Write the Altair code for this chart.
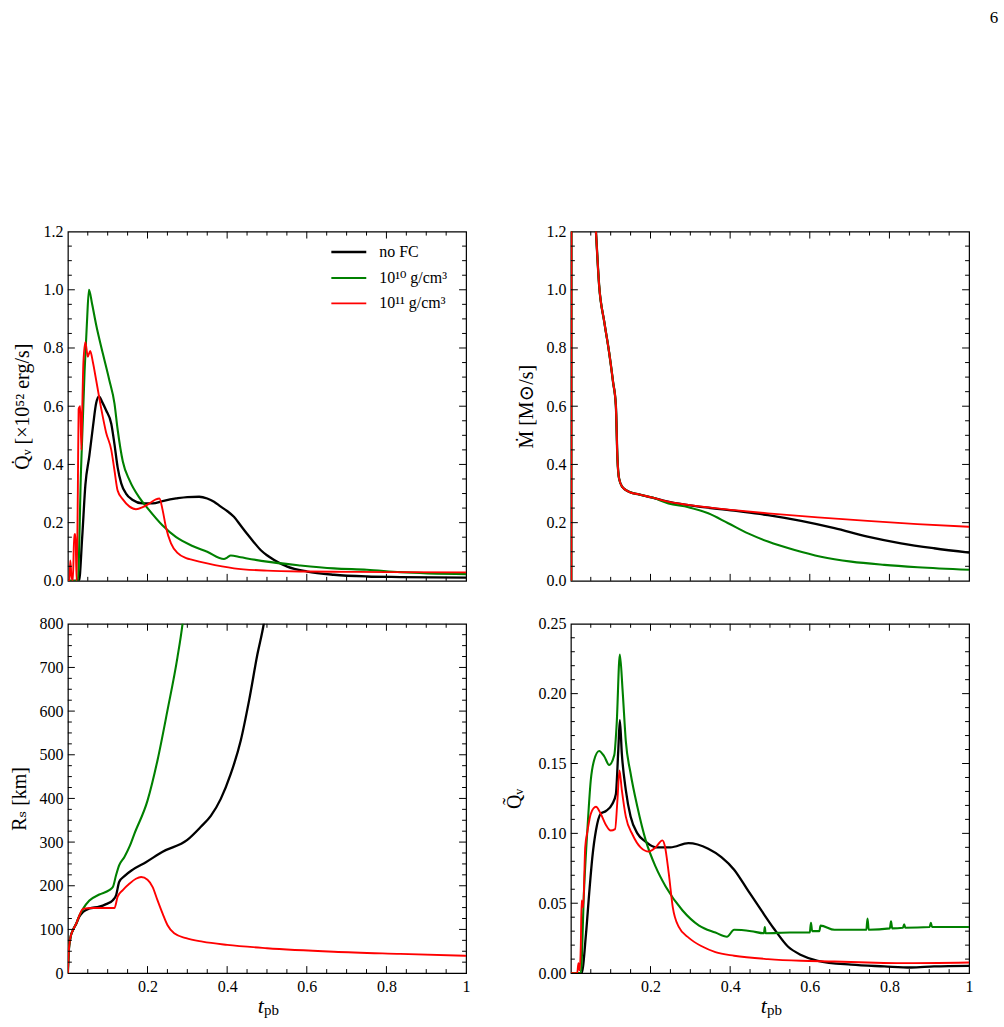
import altair as alt
import pandas as pd

# ---------------- data ----------------
SERIES = ["no FC", "10¹⁰ g/cm³", "10¹¹ g/cm³"]
COLORS = ["#000000", "#008000", "#ff0000"]
WIDTHS = [2.3, 1.9, 2.2]

# Panel 1: Qdot_nu [1e52 erg/s]
qdot_nofc_t = [0, 0.028, 0.036, 0.044, 0.054, 0.063, 0.071, 0.078, 0.086, 0.096, 0.109, 0.117, 0.125,
               0.134, 0.146, 0.163, 0.188, 0.213, 0.238, 0.272, 0.30, 0.33, 0.35, 0.367, 0.384, 0.40,
               0.417, 0.434, 0.451, 0.467, 0.484, 0.50, 0.518, 0.551, 0.601, 0.668, 0.751, 0.835, 1.0]
qdot_nofc_v = [0, 0, 0.15, 0.33, 0.43, 0.53, 0.61, 0.634, 0.615, 0.586, 0.54, 0.47, 0.39,
               0.335, 0.30, 0.278, 0.266, 0.266, 0.274, 0.283, 0.288, 0.289, 0.283, 0.272, 0.255, 0.24,
               0.22, 0.19, 0.16, 0.133, 0.106, 0.088, 0.072, 0.049, 0.032, 0.021, 0.015, 0.013, 0.011]
qdot_g10_t = [0, 0.025, 0.033, 0.042, 0.048, 0.053, 0.061, 0.071, 0.088, 0.104, 0.117, 0.125, 0.138,
              0.155, 0.180, 0.20, 0.238, 0.272, 0.313, 0.35, 0.392, 0.40, 0.409, 0.434, 0.50, 0.584,
              0.668, 0.751, 0.835, 1.0]
qdot_g10_v = [0, 0, 0.38, 0.72, 0.89, 1.0, 0.95, 0.88, 0.78, 0.69, 0.61, 0.52, 0.41,
              0.345, 0.285, 0.25, 0.19, 0.15, 0.12, 0.10, 0.075, 0.08, 0.087, 0.081, 0.066, 0.053,
              0.043, 0.038, 0.030, 0.023]
qdot_g11_t = [0, 0.004, 0.006, 0.009, 0.0125, 0.016, 0.019, 0.022, 0.025, 0.027, 0.031, 0.034, 0.036,
              0.039, 0.044, 0.050, 0.056, 0.063, 0.071, 0.084, 0.096, 0.109, 0.117, 0.125, 0.138,
              0.155, 0.171, 0.188, 0.205, 0.221, 0.230, 0.238, 0.246, 0.259, 0.276, 0.297, 0.313,
              0.35, 0.417, 0.5, 0.6, 0.7, 0.8, 1.0]
qdot_g11_v = [0, 0.0, 0.07, 0.02, 0.0, 0.16, 0.16, 0.0, 0.3, 0.59, 0.60, 0.45, 0.58,
              0.75, 0.82, 0.77, 0.79, 0.75, 0.69, 0.59, 0.51, 0.45, 0.38, 0.31, 0.28,
              0.255, 0.246, 0.253, 0.266, 0.28, 0.283, 0.243, 0.186, 0.129, 0.095, 0.078, 0.072,
              0.06, 0.043, 0.035, 0.032, 0.031, 0.030, 0.029]

# Panel 2: Mdot [Msun/s]
mdot_common_t = [0, 0.001, 0.002, 0.03, 0.063, 0.071, 0.084, 0.096, 0.106, 0.113, 0.117, 0.121,
                 0.129, 0.146, 0.171, 0.205]
mdot_common_v = [0, 0, 5.0, 2.0, 1.2, 1.015, 0.889, 0.786, 0.683, 0.603, 0.42, 0.352,
                 0.323, 0.306, 0.297, 0.286]
mdot_nofc_t = [0.238, 0.295, 0.41, 0.495, 0.578, 0.662, 0.745, 0.829, 0.912, 1.0]
mdot_nofc_v = [0.274, 0.26, 0.241, 0.226, 0.206, 0.181, 0.152, 0.129, 0.112, 0.097]
mdot_g10_t = [0.245, 0.295, 0.345, 0.395, 0.445, 0.495, 0.562, 0.628, 0.704, 0.787, 0.871, 1.0]
mdot_g10_v = [0.266, 0.253, 0.232, 0.198, 0.163, 0.135, 0.106, 0.083, 0.066, 0.055, 0.047, 0.038]
mdot_g11_t = [0.238, 0.295, 0.41, 0.495, 0.62, 0.745, 0.87, 1.0]
mdot_g11_v = [0.274, 0.261, 0.243, 0.232, 0.218, 0.206, 0.195, 0.186]

# Panel 3: R_s [km]
rs_nofc_t = [0, 0.0025, 0.006, 0.0125, 0.021, 0.029, 0.038, 0.054, 0.079, 0.096, 0.113, 0.121, 0.129,
             0.142, 0.163, 0.196, 0.238, 0.30, 0.334, 0.359, 0.384, 0.409, 0.434, 0.455, 0.476,
             0.492, 0.51]
rs_nofc_v = [0, 53, 79, 98, 113, 130, 140, 148, 152, 158, 167, 178, 209,
             222, 237, 254, 278, 305, 335, 360, 399, 456, 532, 624, 730, 800, 920]
rs_g10_t = [0, 0.0025, 0.006, 0.0125, 0.021, 0.029, 0.038, 0.054, 0.079, 0.104, 0.113, 0.121, 0.129,
            0.142, 0.155, 0.167, 0.2, 0.225, 0.25, 0.275, 0.288, 0.30]
rs_g10_v = [0, 53, 79, 98, 113, 132, 147, 166, 180, 190, 197, 224, 247,
            266, 290, 319, 395, 487, 601, 722, 800, 900]
rs_g11_t = [0, 0.0025, 0.006, 0.0125, 0.021, 0.029, 0.038, 0.06, 0.09, 0.117, 0.125, 0.138, 0.155,
            0.171, 0.184, 0.2, 0.213, 0.225, 0.238, 0.25, 0.267, 0.297, 0.338, 0.40, 0.5, 0.668,
            0.835, 1.0]
rs_g11_v = [0, 53, 79, 98, 113, 132, 147, 149, 149, 149, 175, 190, 205,
            216, 220, 214, 197, 167, 136, 110, 91, 80, 72, 64.6, 57, 49,
            44, 39.5]

# Panel 4: normalised Qdot
qt_nofc_t = [0, 0.027, 0.038, 0.046, 0.054, 0.063, 0.075, 0.088, 0.104, 0.113, 0.119, 0.123, 0.128,
             0.138, 0.15, 0.167, 0.188, 0.213, 0.25, 0.295, 0.345, 0.378, 0.41, 0.445, 0.478, 0.512,
             0.545, 0.578, 0.62, 0.704, 0.787, 0.854, 0.912, 1.0]
qt_nofc_v = [0, 0, 0.028, 0.057, 0.083, 0.102, 0.114, 0.116, 0.121, 0.128, 0.159, 0.181, 0.157,
             0.131, 0.112, 0.1, 0.094, 0.090, 0.090, 0.093, 0.089, 0.083, 0.074, 0.059, 0.045, 0.031,
             0.019, 0.013, 0.0088, 0.006, 0.0048, 0.004, 0.0048, 0.0052]
qt_g10_t = [0, 0.025, 0.033, 0.042, 0.05, 0.058, 0.071, 0.084, 0.096, 0.109, 0.115, 0.123, 0.130,
            0.138, 0.15, 0.167, 0.188, 0.213, 0.238, 0.28, 0.322, 0.363, 0.392, 0.41, 0.453,
            0.485, 0.487, 0.489, 0.55, 0.600, 0.603, 0.606, 0.624, 0.627, 0.662, 0.742, 0.745, 0.748,
            0.801, 0.804, 0.807, 0.834, 0.837, 0.840, 0.901, 0.904, 0.907, 0.95, 1.0]
qt_g10_v = [0, 0, 0.059, 0.105, 0.138, 0.152, 0.159, 0.155, 0.149, 0.156, 0.178, 0.228, 0.202,
            0.166, 0.143, 0.119, 0.095, 0.076, 0.062, 0.045, 0.034, 0.029, 0.026, 0.031, 0.030,
            0.0285, 0.033, 0.0285, 0.029, 0.029, 0.036, 0.030, 0.030, 0.034, 0.031, 0.031, 0.039, 0.031,
            0.032, 0.037, 0.032, 0.0325, 0.035, 0.0325, 0.033, 0.036, 0.033, 0.033, 0.033]
qt_g11_t = [0, 0.016, 0.019, 0.022, 0.025, 0.027, 0.031, 0.036, 0.042, 0.05, 0.063, 0.075, 0.088,
            0.1, 0.111, 0.117, 0.122, 0.128, 0.138, 0.155, 0.175, 0.196, 0.213, 0.230, 0.236, 0.246,
            0.256, 0.271, 0.297, 0.330, 0.363, 0.41, 0.495, 0.578, 0.662, 0.745, 0.829, 1.0]
qt_g11_v = [0, 0, 0.007, 0.002, 0.02, 0.052, 0.047, 0.09, 0.102, 0.114, 0.119, 0.114, 0.106,
            0.102, 0.103, 0.124, 0.145, 0.131, 0.112, 0.099, 0.090, 0.087, 0.090, 0.095, 0.091, 0.071,
            0.047, 0.033, 0.025, 0.019, 0.015, 0.0124, 0.010, 0.0088, 0.0083, 0.0076, 0.0071, 0.0076]

# tick positions
X_MAJOR = [0.2, 0.4, 0.6, 0.8]
X_MINOR = [0.05, 0.1, 0.15, 0.25, 0.3, 0.35, 0.45, 0.5, 0.55, 0.65, 0.7, 0.75, 0.85, 0.9, 0.95]
Y12_MAJOR = [0.2, 0.4, 0.6, 0.8, 1.0]
Y12_MINOR = [0.05, 0.1, 0.15, 0.25, 0.3, 0.35, 0.45, 0.5, 0.55, 0.65, 0.7, 0.75, 0.85, 0.9, 0.95,
             1.05, 1.1, 1.15]
Y12_LABELS = [0.0, 0.2, 0.4, 0.6, 0.8, 1.0, 1.2]
RS_MAJOR = [100, 200, 300, 400, 500, 600, 700]
RS_MINOR = [25, 50, 75, 125, 150, 175, 225, 250, 275, 325, 350, 375, 425, 450, 475, 525, 550, 575,
            625, 650, 675, 725, 750, 775]
RS_LABELS = [0, 100, 200, 300, 400, 500, 600, 700, 800]
QT_MAJOR = [0.05, 0.1, 0.15, 0.2]
QT_MINOR = [0.01, 0.02, 0.03, 0.04, 0.06, 0.07, 0.08, 0.09, 0.11, 0.12, 0.13, 0.14, 0.16, 0.17,
            0.18, 0.19, 0.21, 0.22, 0.23, 0.24]
QT_LABELS = [0.0, 0.05, 0.1, 0.15, 0.2, 0.25]

# ---------------- helpers ----------------
W, H = 399, 350
FONT = "Liberation Serif, DejaVu Serif"
MAJ, MIN = 7, 4


def long_df(parts):
    rows = []
    for name, ts, vs in parts:
        for t, v in zip(ts, vs):
            rows.append({"t": t, "v": v, "series": name})
    return pd.DataFrame(rows)


def make_yaxis(ylabels, yfmt, ytitle, title_x):
    return alt.Axis(values=ylabels, format=yfmt, ticks=False, domain=False, grid=False,
                    labelPadding=5, labelFont=FONT, labelFontSize=16, labelColor="black",
                    title=ytitle, titleX=title_x, titleFont=FONT, titleFontSize=20,
                    titleFontWeight="normal", titleColor="black")


def make_xaxis():
    return alt.Axis(values=[0.2, 0.4, 0.6, 0.8, 1.0],
                    labelExpr="datum.value == 1 ? '1' : format(datum.value, '.1f')",
                    ticks=False, domain=False, grid=False, labelFlush=False, labelPadding=5,
                    labelFont=FONT, labelFontSize=16, labelColor="black", title=None)


def panel(df, ydom, ylabels, yfmt, ymaj, ymin, ytitle, title_x, bottom, legend=None, extra=()):
    xscale = alt.Scale(domain=[0, 1], nice=False, zero=False)
    yscale = alt.Scale(domain=ydom, nice=False, zero=False)

    def xax():
        return make_xaxis() if bottom else None

    def yax():
        return make_yaxis(ylabels, yfmt, ytitle, title_x)

    line = alt.Chart(df).mark_line(clip=True, interpolate="monotone").encode(
        x=alt.X("t:Q", scale=xscale, axis=xax()),
        y=alt.Y("v:Q", scale=yscale, axis=yax()),
        color=alt.Color("series:N", scale=alt.Scale(domain=SERIES, range=COLORS), legend=legend),
        strokeWidth=alt.StrokeWidth("series:N", scale=alt.Scale(domain=SERIES, range=WIDTHS),
                                    legend=None),
    )
    layers = [line]
    for vals, ln in ((X_MAJOR, MAJ), (X_MINOR, MIN)):
        d = pd.DataFrame({"p": vals})
        for y0, y1 in ((H, H - ln), (0, ln)):
            layers.append(alt.Chart(d).mark_rule(color="black", strokeWidth=1).encode(
                x=alt.X("p:Q", scale=xscale, axis=xax()), y=alt.value(y0), y2=alt.value(y1)))
    for vals, ln in ((ymaj, MAJ), (ymin, MIN)):
        d = pd.DataFrame({"p": vals})
        for x0, x1 in ((0, ln), (W, W - ln)):
            layers.append(alt.Chart(d).mark_rule(color="black", strokeWidth=1).encode(
                y=alt.Y("p:Q", scale=yscale, axis=yax()), x=alt.value(x0), x2=alt.value(x1)))
    if bottom:
        layers.append(alt.Chart(pd.DataFrame({"s": ["t"]})).mark_text(
            font=FONT, fontSize=22, fontStyle="italic", align="right", baseline="alphabetic",
            color="black").encode(text="s:N", x=alt.value(W / 2 - 3), y=alt.value(H + 40)))
        layers.append(alt.Chart(pd.DataFrame({"s": ["pb"]})).mark_text(
            font=FONT, fontSize=15, align="left", baseline="alphabetic",
            color="black").encode(text="s:N", x=alt.value(W / 2 - 3), y=alt.value(H + 42)))
    layers.extend(extra)
    return alt.layer(*layers).properties(width=W, height=H)


df_qdot = long_df([(SERIES[0], qdot_nofc_t, qdot_nofc_v),
                   (SERIES[1], qdot_g10_t, qdot_g10_v),
                   (SERIES[2], qdot_g11_t, qdot_g11_v)])
df_mdot = long_df([(SERIES[0], mdot_common_t + mdot_nofc_t, mdot_common_v + mdot_nofc_v),
                   (SERIES[1], mdot_common_t + mdot_g10_t, mdot_common_v + mdot_g10_v),
                   (SERIES[2], mdot_common_t + mdot_g11_t, mdot_common_v + mdot_g11_v)])
df_rs = long_df([(SERIES[0], rs_nofc_t, rs_nofc_v),
                 (SERIES[1], rs_g10_t, rs_g10_v),
                 (SERIES[2], rs_g11_t, rs_g11_v)])
df_qt = long_df([(SERIES[0], qt_nofc_t, qt_nofc_v),
                 (SERIES[1], qt_g10_t, qt_g10_v),
                 (SERIES[2], qt_g11_t, qt_g11_v)])

legend = alt.Legend(title=None, orient="none", legendX=273, legendY=12,
                    symbolType="M-2.5,0H2.5", symbolSize=196, symbolStrokeWidth=2.6,
                    labelFont=FONT, labelFontSize=16, labelColor="black", labelOffset=22,
                    rowPadding=9)

page_no = alt.Chart(pd.DataFrame({"s": ["6"]})).mark_text(
    font=FONT, fontSize=17, align="center", baseline="middle", color="black"
).encode(text="s:N", x=alt.value(424), y=alt.value(-214))

tl = panel(df_qdot, [0, 1.2], Y12_LABELS, ".1f", Y12_MAJOR, Y12_MINOR,
           "Q̇ᵥ [×10⁵² erg/s]", -35, False, legend=legend)
tr = panel(df_mdot, [0, 1.2], Y12_LABELS, ".1f", Y12_MAJOR, Y12_MINOR,
           "Ṁ [M⊙/s]", -34, False, legend=None, extra=(page_no,))
bl = panel(df_rs, [0, 800], RS_LABELS, "d", RS_MAJOR, RS_MINOR,
           "Rₛ [km]", -38, True, legend=None)
br = panel(df_qt, [0, 0.25], QT_LABELS, ".2f", QT_MAJOR, QT_MINOR,
           "Q̃ᵥ", -46, True, legend=None)

chart = alt.concat(tl, tr, bl, br, columns=2, spacing={"row": 25, "column": 33}).resolve_scale(
    color="independent", strokeWidth="independent"
).properties(
    padding={"left": 9, "top": 7, "right": 5, "bottom": 5}, background="white"
).configure_view(stroke="black", strokeWidth=1.2)

chart.save("out.html", embed_options={"renderer": "svg", "actions": False})
